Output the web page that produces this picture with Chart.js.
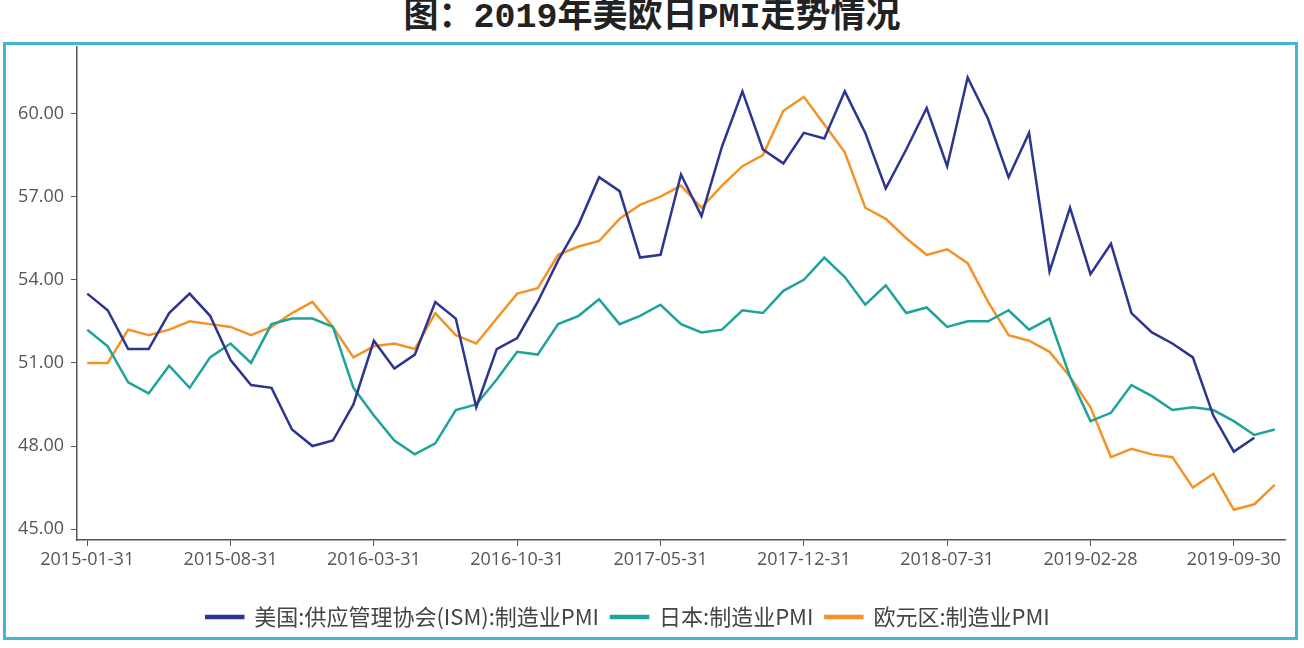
<!DOCTYPE html>
<html>
<head>
<meta charset="utf-8">
<title>2019年美欧日PMI走势情况</title>
<script src="https://cdn.jsdelivr.net/npm/chart.js"></script>
<style>
    html, body { margin: 0; padding: 0; background: #fff; overflow: hidden; }
    body { width: 1304px; height: 648px; position: relative; }
    #titulo {
        position: absolute; top: 0; left: 0; width: 1304px;
        text-align: center; color: #222;
        font: bold 35px "Liberation Mono", "Noto Sans CJK SC", monospace;
        line-height: 36px;
    }
    #marco {
        position: absolute; left: 3px; top: 42px; width: 1295px; height: 598px;
        border: 3px solid #44b7cc; box-sizing: border-box; pointer-events: none;
    }
    #caja { position: absolute; left: -29px; top: 0; width: 1333px; height: 648px; }
</style>
</head>
<body>

<div id="titulo">图：2019年美欧日PMI走势情况</div>
<div id="caja"><canvas id="grafico"></canvas></div>
<div id="marco"></div>

<script>
    // datos mensuales 2015-01 .. 2019-11
    const series = ['美国:供应管理协会(ISM):制造业PMI', '日本:制造业PMI', '欧元区:制造业PMI'];
    const usa = [53.5, 52.9, 51.5, 51.5, 52.8, 53.5, 52.7, 51.1, 50.2, 50.1, 48.6, 48.0,
                 48.2, 49.5, 51.8, 50.8, 51.3, 53.2, 52.6, 49.4, 51.5, 51.9, 53.2, 54.7,
                 56.0, 57.7, 57.2, 54.8, 54.9, 57.8, 56.3, 58.8, 60.8, 58.7, 58.2, 59.3,
                 59.1, 60.8, 59.3, 57.3, 58.7, 60.2, 58.1, 61.3, 59.8, 57.7, 59.3, 54.3,
                 56.6, 54.2, 55.3, 52.8, 52.1, 51.7, 51.2, 49.1, 47.8, 48.3];
    const japon = [52.2, 51.6, 50.3, 49.9, 50.9, 50.1, 51.2, 51.7, 51.0, 52.4, 52.6, 52.6,
                   52.3, 50.1, 49.1, 48.2, 47.7, 48.1, 49.3, 49.5, 50.4, 51.4, 51.3, 52.4,
                   52.7, 53.3, 52.4, 52.7, 53.1, 52.4, 52.1, 52.2, 52.9, 52.8, 53.6, 54.0,
                   54.8, 54.1, 53.1, 53.8, 52.8, 53.0, 52.3, 52.5, 52.5, 52.9, 52.2, 52.6,
                   50.5, 48.9, 49.2, 50.2, 49.8, 49.3, 49.4, 49.3, 48.9, 48.4, 48.6];
    const eurozona = [51.0, 51.0, 52.2, 52.0, 52.2, 52.5, 52.4, 52.3, 52.0, 52.3, 52.8, 53.2,
                      52.3, 51.2, 51.6, 51.7, 51.5, 52.8, 52.0, 51.7, 52.6, 53.5, 53.7, 54.9,
                      55.2, 55.4, 56.2, 56.7, 57.0, 57.4, 56.6, 57.4, 58.1, 58.5, 60.1, 60.6,
                      59.6, 58.6, 56.6, 56.2, 55.5, 54.9, 55.1, 54.6, 53.2, 52.0, 51.8, 51.4,
                      50.5, 49.4, 47.6, 47.9, 47.7, 47.6, 46.5, 47.0, 45.7, 45.9, 46.6];
    const colores = ['#2c3590', '#1ea39b', '#f39327'];

    // etiquetas: fin de cada mes
    const meses = [];
    for (let i = 0; i < eurozona.length; i++) {
        meses.push(new Date(Date.UTC(2015, 1 + i, 0)).toISOString().slice(0, 10));
    }

    const fuenteEjes = { family: '"Open Sans", sans-serif', size: 18 };

    new Chart(document.getElementById('grafico'), {
        type: 'line',
        data: {
            labels: meses,
            datasets: [usa, japon, eurozona].map((d, i) => ({
                label: series[i],
                data: d,
                borderColor: colores[i],
                backgroundColor: colores[i],
                borderWidth: 2.5,
                pointRadius: 0,
                tension: 0
            }))
        },
        options: {
            responsive: true,
            maintainAspectRatio: false,
            animation: false,
            layout: { padding: { left: 0, right: 19, top: 47, bottom: 10 } },
            plugins: {
                tooltip: { enabled: false },
                legend: {
                    position: 'bottom',
                    labels: {
                        boxWidth: 37,
                        boxHeight: 2,
                        padding: 12,
                        color: '#444',
                        font: { family: '"Noto Sans CJK SC", sans-serif', size: 22 }
                    }
                }
            },
            scales: {
                x: {
                    offset: true,
                    afterFit: s => { s.height = 54; },
                    grid: { offset: false, drawOnChartArea: false, tickLength: 6, color: '#555' },
                    border: { color: '#555', width: 1.5 },
                    ticks: {
                        autoSkip: false,
                        maxRotation: 0,
                        padding: 3,
                        color: '#555',
                        font: fuenteEjes,
                        callback: function (v, i) { return i % 7 === 0 ? this.getLabelForValue(v) : null; }
                    }
                },
                y: {
                    min: 44.61,
                    max: 62.4,
                    afterFit: s => { s.width = 106; },
                    grid: { drawOnChartArea: false, tickLength: 6, color: '#555' },
                    border: { color: '#555', width: 1.5 },
                    ticks: {
                        stepSize: 3,
                        includeBounds: false,
                        padding: 7,
                        color: '#555',
                        font: fuenteEjes,
                        callback: v => v.toFixed(2)
                    }
                }
            }
        }
    });
</script>

</body>
</html>
